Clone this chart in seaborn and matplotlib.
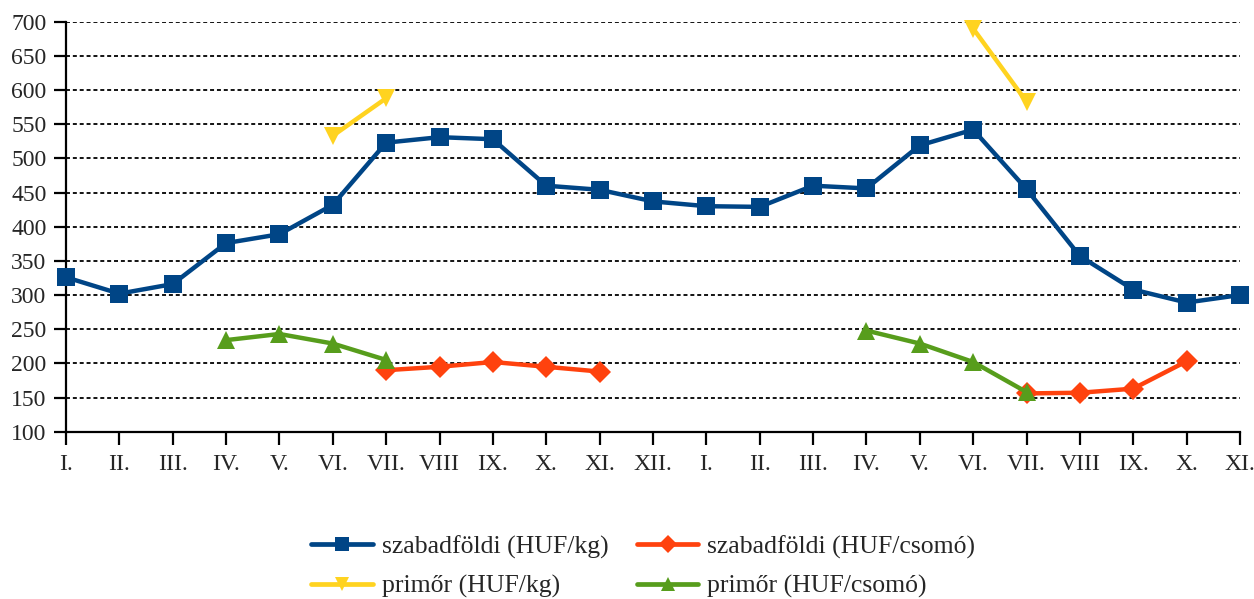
import pandas as pd
import numpy as np
import matplotlib
matplotlib.use("Agg")
import matplotlib.pyplot as plt
from matplotlib.lines import Line2D
import seaborn as sns

# === 1. Data ===
months = ["I.", "II.", "III.", "IV.", "V.", "VI.", "VII.", "VIII", "IX.", "X.", "XI.", "XII.",
          "I.", "II.", "III.", "IV.", "V.", "VI.", "VII.", "VIII", "IX.", "X.", "XI."]

szabad_kg = [326, 302, 316, 376, 389, 432, 523, 531, 528, 460, 454, 437,
             430, 429, 460, 456, 519, 542, 455, 357, 308, 289, 300]
szabad_csomo = [None, None, None, None, None, None, 190, 195, 202, 195, 188, None,
                None, None, None, None, None, None, 156, 157, 163, 203, None]
primor_kg = [None, None, None, None, None, 533, 588, None, None, None, None, None,
             None, None, None, None, None, 690, 583, None, None, None, None]
primor_csomo = [None, None, None, 234, 243, 229, 205, None, None, None, None, None,
                None, None, None, 248, 229, 202, 158, None, None, None, None]

series_names = ["szabadföldi (HUF/kg)", "szabadföldi (HUF/csomó)",
                "primőr (HUF/kg)", "primőr (HUF/csomó)"]
series_values = [szabad_kg, szabad_csomo, primor_kg, primor_csomo]
colors = ["#004586", "#ff420e", "#ffd320", "#579d1c"]
markers = ["s", "D", "v", "^"]
msizes = [13, 11, 13, 13]

# long-form table, with a segment id for each unbroken run of values
rows = []
for name, vals in zip(series_names, series_values):
    seg = 0
    prev = None
    for i, v in enumerate(vals):
        if v is None:
            prev = None
            continue
        if prev is None:
            seg += 1
        rows.append({"pos": i, "value": v, "series": name, "segment": seg})
        prev = v
df = pd.DataFrame(rows)

# === 2. Style ===
sns.set_style("white")
plt.rcParams["font.family"] = ["Liberation Serif", "DejaVu Serif"]

fig = plt.figure(figsize=(12.54, 5.99), dpi=100)
ax = fig.add_axes([0.0526, 0.2793, 0.9362, 0.6845])

# === 3. Lines ===
for name, color, mk, ms in zip(series_names, colors, markers, msizes):
    sub = df[df["series"] == name]
    sns.lineplot(data=sub, x="pos", y="value", units="segment", estimator=None,
                 color=color, marker=mk, markersize=ms, markeredgewidth=0,
                 linewidth=3.2, ax=ax, legend=False, clip_on=False, zorder=3)

# === 4. Axes ===
ax.set_xlim(0, len(months) - 1)
ax.set_ylim(100, 700)
ax.set_xticks(range(len(months)))
ax.set_xticklabels(months)
ax.set_yticks(range(100, 701, 50))
ax.set_xlabel("")
ax.set_ylabel("")
ax.yaxis.grid(True, color="black", linestyle=(0, (2.2, 1.6)), linewidth=1.3)
ax.xaxis.grid(False)
for s in ["top", "right"]:
    ax.spines[s].set_visible(False)
for s in ["left", "bottom"]:
    ax.spines[s].set_color("black")
    ax.spines[s].set_linewidth(1.6)
ax.tick_params(axis="both", direction="out", length=9, width=1.6, color="black",
               labelsize=17, bottom=True, left=True)
ax.tick_params(axis="x", pad=7)
ax.tick_params(axis="y", pad=5)

# === 5. Legend ===
order = [0, 2, 1, 3]
handles = [Line2D([0], [0], color=colors[i], marker=markers[i], markersize=msizes[i] * 0.8,
                  markeredgewidth=0, linewidth=3.4) for i in order]
labels = [series_names[i] for i in order]
fig.legend(handles, labels, loc="lower center", bbox_to_anchor=(0.513, -0.037), ncol=2,
           frameon=False, fontsize=18.5, handlelength=2.4, handletextpad=0.35,
           columnspacing=1.1, labelspacing=0.62)

fig.savefig("out.png", dpi=100)
